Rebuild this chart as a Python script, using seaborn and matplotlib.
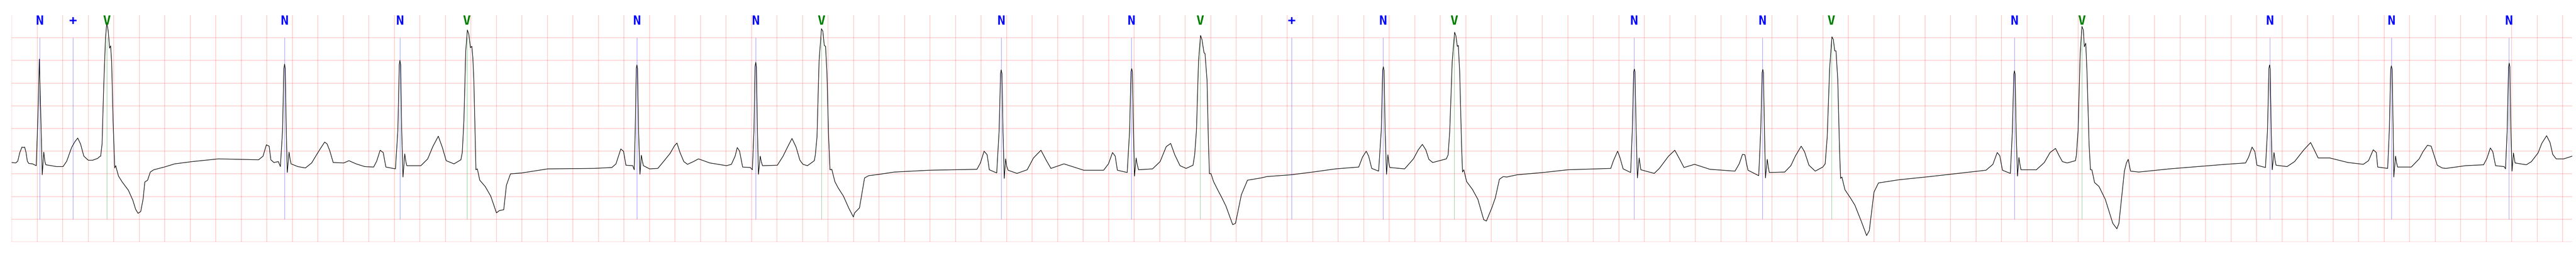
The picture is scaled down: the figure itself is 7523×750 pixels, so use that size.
import matplotlib
matplotlib.use("Agg")
import matplotlib.pyplot as plt
import numpy as np
import pandas as pd
import seaborn as sns

# ECG trace: time (s) and amplitude (mV)
t_sec = [
    0.000, 0.032, 0.048, 0.064, 0.081, 0.091, 0.102, 0.113, 0.123, 0.134, 0.164, 0.193,
    0.207, 0.217, 0.228, 0.240, 0.252, 0.260, 0.268, 0.311, 0.352, 0.403,
    0.432, 0.470, 0.494, 0.518, 0.540, 0.566, 0.601, 0.634, 0.674, 0.690,
    0.698, 0.709, 0.722, 0.736, 0.746, 0.757, 0.768, 0.776, 0.784, 0.795, 0.808, 0.816,
    0.827, 0.838, 0.867, 0.915, 0.950, 0.972, 0.991, 1.012, 1.031, 1.044, 1.066, 1.087,
    1.114, 1.197, 1.278, 1.415, 1.622, 1.936,
    1.971, 1.997, 2.019, 2.032, 2.056, 2.091, 2.107,
    2.124, 2.134, 2.140, 2.145, 2.153, 2.161, 2.175, 2.183, 2.191,
    2.244, 2.303, 2.352, 2.384, 2.419, 2.454, 2.473, 2.494, 2.521, 2.604, 2.644, 2.701,
    2.768, 2.838,
    2.862, 2.889, 2.913, 2.934, 3.009,
    3.028, 3.039, 3.044, 3.050, 3.058, 3.068, 3.082, 3.090, 3.098, 3.208,
    3.262, 3.302, 3.345, 3.377, 3.407, 3.468, 3.522,
    3.533, 3.546, 3.560, 3.573, 3.584, 3.597, 3.608, 3.616, 3.624, 3.640, 3.651, 3.670,
    3.713, 3.756, 3.801, 3.823, 3.858, 3.879, 3.911, 4.000, 4.204,
    4.564, 4.706, 4.738, 4.754, 4.776, 4.787, 4.797, 4.816, 4.870, 4.881,
    4.889, 4.897, 4.902, 4.907, 4.915, 4.926, 4.937, 4.945, 4.953, 5.001, 5.066,
    5.119, 5.162, 5.197, 5.216, 5.240, 5.270, 5.299, 5.345, 5.385, 5.474, 5.605, 5.643,
    5.672, 5.689, 5.707, 5.731, 5.791, 5.807,
    5.820, 5.828, 5.834, 5.839, 5.847, 5.855, 5.869, 5.877, 5.887, 6.003,
    6.048, 6.083, 6.118, 6.150, 6.180, 6.204, 6.239, 6.293,
    6.301, 6.314, 6.330, 6.349, 6.360, 6.371, 6.381, 6.392, 6.405, 6.416, 6.430, 6.454,
    6.478, 6.521, 6.564, 6.599, 6.609, 6.647, 6.687, 6.719, 6.803, 6.921, 7.197, 7.568,
    7.595, 7.624, 7.648, 7.665, 7.723,
    7.742, 7.753, 7.758, 7.764, 7.772, 7.782, 7.793, 7.801, 7.812, 7.882, 7.962,
    8.011, 8.070, 8.113, 8.148, 8.250, 8.405, 8.561,
    8.599, 8.631, 8.652, 8.669, 8.746,
    8.765, 8.776, 8.781, 8.787, 8.795, 8.803, 8.816, 8.824, 8.835, 8.945,
    9.004, 9.052, 9.087, 9.119, 9.160, 9.208, 9.262,
    9.275, 9.289, 9.305, 9.321, 9.332, 9.348, 9.356, 9.372, 9.383, 9.391, 9.402, 9.423,
    9.455, 9.487, 9.520, 9.573, 9.595, 9.641, 9.689, 9.796, 9.841,
    10.032, 10.201, 10.381, 10.561,
    10.591, 10.620, 10.639, 10.663, 10.717,
    10.738, 10.749, 10.754, 10.760, 10.768, 10.779, 10.790, 10.797, 10.805, 10.921,
    10.990, 11.028, 11.060, 11.087, 11.111, 11.141, 11.248,
    11.262, 11.275, 11.294, 11.313, 11.323, 11.334, 11.342, 11.353, 11.367, 11.375, 11.385,
    11.407, 11.452, 11.495, 11.541, 11.562, 11.603, 11.632, 11.664, 11.694, 11.721,
    11.804, 12.008, 12.201, 12.537,
    12.558, 12.591, 12.610, 12.634, 12.693,
    12.706, 12.717, 12.722, 12.727, 12.736, 12.746, 12.760, 12.768, 12.773, 12.878, 12.918,
    12.990, 13.039, 13.076, 13.111, 13.194, 13.315, 13.511,
    13.544, 13.570, 13.589, 13.600, 13.613, 13.648, 13.697,
    13.713, 13.724, 13.729, 13.734, 13.742, 13.750, 13.764, 13.772, 13.780, 13.901,
    13.949, 13.984, 14.030, 14.056, 14.091, 14.140, 14.199,
    14.218, 14.234, 14.253, 14.271, 14.282, 14.293, 14.303, 14.317, 14.330, 14.339, 14.349,
    14.373, 14.416, 14.451, 14.499, 14.543, 14.564, 14.601, 14.636, 14.797, 15.039, 15.479,
    15.533, 15.567, 15.587, 15.608, 15.670,
    15.686, 15.697, 15.702, 15.707, 15.715, 15.726, 15.737, 15.745, 15.753, 15.874,
    15.936, 15.981, 16.024, 16.054, 16.078, 16.115, 16.180,
    16.188, 16.201, 16.217, 16.231, 16.242, 16.250, 16.261, 16.271, 16.287, 16.298, 16.309,
    16.330, 16.365, 16.414, 16.473, 16.505, 16.521, 16.564, 16.580, 16.594, 16.612, 16.677,
    16.918, 17.358, 17.514,
    17.538, 17.565, 17.587, 17.603, 17.670,
    17.686, 17.697, 17.702, 17.707, 17.715, 17.723, 17.737, 17.745, 17.753, 17.839,
    17.898, 17.971, 18.024, 18.054, 18.083, 18.174, 18.317, 18.437, 18.478,
    18.515, 18.539, 18.550, 18.628,
    18.641, 18.652, 18.657, 18.663, 18.671, 18.676, 18.690, 18.698, 18.706, 18.813,
    18.875, 18.905, 18.940, 18.969, 19.017, 19.055, 19.085, 19.238, 19.380,
    19.406, 19.433, 19.452, 19.474, 19.541, 19.552,
    19.565, 19.576, 19.581, 19.586, 19.594, 19.603, 19.614, 19.622, 19.627, 19.715, 19.755,
    19.807, 19.836, 19.874, 19.901, 19.922, 19.949, 20.008, 20.075,
]
ecg_mv = [
    -0.75, -0.76, -0.72, -0.53, -0.41, -0.42, -0.41, -0.53, -0.72, -0.77, -0.78, -0.82,
    0.34, 1.53, 0.34, -1.02, -0.52, -0.72, -0.80, -0.82, -0.84, -0.84,
    -0.72, -0.42, -0.30, -0.21, -0.34, -0.61, -0.70, -0.70, -0.66, -0.62,
    -0.61, -0.34, 0.94, 2.00, 2.33, 2.15, 1.77, 1.82, 1.47, 0.19, -0.87, -0.82,
    -0.94, -1.05, -1.18, -1.36, -1.58, -1.78, -1.87, -1.83, -1.55, -1.18, -1.14, -0.96,
    -0.91, -0.85, -0.78, -0.73, -0.67, -0.69,
    -0.61, -0.36, -0.39, -0.69, -0.75, -0.73, -0.84,
    -0.04, 1.32, 1.42, 1.32, -0.04, -0.97, -0.52, -0.68, -0.78,
    -0.84, -0.87, -0.76, -0.61, -0.45, -0.30, -0.34, -0.49, -0.75, -0.76, -0.71, -0.78,
    -0.84, -0.85,
    -0.72, -0.48, -0.53, -0.85, -0.89,
    -0.04, 1.40, 1.50, 1.40, -0.04, -1.07, -0.56, -0.72, -0.82, -0.82,
    -0.67, -0.40, -0.17, -0.42, -0.71, -0.78, -0.69,
    -0.53, 0.19, 1.70, 2.17, 2.08, 1.78, 1.81, 1.55, 1.03, -0.91, -0.89, -1.14,
    -1.28, -1.49, -1.86, -1.81, -1.79, -1.25, -1.00, -0.98, -0.89,
    -0.88, -0.86, -0.78, -0.64, -0.45, -0.48, -0.50, -0.81, -0.82, -0.91,
    -0.04, 1.32, 1.40, 1.32, -0.04, -1.01, -0.59, -0.72, -0.82, -0.89, -0.88,
    -0.70, -0.55, -0.38, -0.32, -0.53, -0.73, -0.79, -0.73, -0.67, -0.76, -0.82, -0.79,
    -0.61, -0.42, -0.50, -0.85, -0.86, -0.91,
    -0.04, 1.36, 1.46, 1.36, -0.04, -1.01, -0.61, -0.73, -0.82, -0.81,
    -0.61, -0.41, -0.22, -0.41, -0.70, -0.79, -0.82, -0.71,
    -0.58, -0.19, 1.47, 2.20, 2.14, 1.83, 1.81, 1.22, -0.19, -0.91, -0.90, -1.17,
    -1.30, -1.49, -1.76, -1.95, -1.86, -1.75, -1.09, -1.04, -1.01, -0.96, -0.92, -0.90,
    -0.76, -0.50, -0.58, -0.91, -0.98,
    -0.04, 1.21, 1.29, 1.21, -0.04, -1.10, -0.67, -0.83, -0.92, -0.99, -0.91,
    -0.65, -0.48, -0.71, -0.88, -0.78, -0.92, -0.92,
    -0.78, -0.53, -0.61, -0.92, -0.97,
    -0.04, 1.25, 1.32, 1.25, -0.04, -1.05, -0.65, -0.79, -0.91, -0.89,
    -0.73, -0.40, -0.33, -0.58, -0.82, -0.88, -0.81,
    -0.58, -0.04, 1.47, 2.05, 1.96, 1.67, 1.65, 1.06, -0.34, -1.00, -0.99, -1.17,
    -1.35, -1.52, -1.71, -2.12, -2.09, -1.46, -1.14, -1.09, -1.06,
    -1.02, -0.96, -0.89, -0.85,
    -0.63, -0.50, -0.61, -0.88, -0.94,
    -0.04, 1.28, 1.36, 1.28, -0.04, -1.01, -0.58, -0.76, -0.86, -0.89,
    -0.67, -0.47, -0.35, -0.47, -0.68, -0.75, -0.67,
    -0.58, -0.04, 1.47, 2.12, 2.04, 1.81, 1.83, 1.22, -0.34, -0.96, -0.91,
    -1.17, -1.34, -1.56, -2.01, -2.04, -1.76, -1.53, -1.12, -1.06, -1.07,
    -1.02, -0.97, -0.91, -0.88,
    -0.71, -0.50, -0.65, -0.89, -0.97,
    -0.04, 1.25, 1.31, 1.25, -0.04, -1.09, -0.65, -0.81, -0.91, -0.99, -0.88,
    -0.61, -0.48, -0.67, -0.86, -0.79, -0.90, -0.94,
    -0.78, -0.57, -0.58, -0.75, -0.92, -0.97, -1.04,
    -0.04, 1.23, 1.30, 1.23, -0.04, -1.09, -0.68, -0.85, -0.97, -0.96,
    -0.82, -0.61, -0.39, -0.51, -0.81, -0.94, -0.85,
    -0.78, -0.19, 1.32, 2.02, 1.96, 1.71, 1.71, 1.06, -0.41, -1.10, -1.07,
    -1.35, -1.53, -1.69, -2.03, -2.36, -2.25, -1.40, -1.20, -1.13, -1.06, -0.92,
    -0.79, -0.53, -0.60, -0.92, -0.99,
    -0.04, 1.20, 1.27, 1.20, -0.04, -1.05, -0.64, -0.79, -0.91, -0.91,
    -0.75, -0.53, -0.44, -0.61, -0.73, -0.76, -0.71,
    -0.58, -0.04, 1.62, 2.25, 2.17, 1.80, 1.88, 1.22, -0.34, -0.91, -0.91,
    -1.19, -1.28, -1.56, -2.09, -2.21, -2.09, -0.94, -0.76, -0.68, -0.94, -0.96,
    -0.89, -0.79, -0.76,
    -0.63, -0.41, -0.51, -0.81, -0.86,
    -0.04, 1.32, 1.40, 1.32, -0.04, -0.91, -0.53, -0.70, -0.81, -0.84,
    -0.73, -0.47, -0.31, -0.48, -0.65, -0.65, -0.75, -0.79, -0.71,
    -0.47, -0.53, -0.85, -0.88,
    -0.04, 1.31, 1.38, 1.31, -0.04, -1.07, -0.61, -0.76, -0.85, -0.85,
    -0.67, -0.51, -0.37, -0.39, -0.81, -0.87, -0.88, -0.82, -0.80,
    -0.66, -0.43, -0.51, -0.82, -0.84, -0.89,
    -0.04, 1.36, 1.44, 1.36, -0.04, -0.94, -0.54, -0.68, -0.76, -0.80, -0.73,
    -0.54, -0.33, -0.16, -0.31, -0.57, -0.67, -0.67, -0.61,
]

# beat annotations
ann_time = [0.220, 0.481, 0.746, 2.140, 3.044, 3.570, 4.902, 5.834, 6.349, 7.758,
            8.778, 9.318, 10.035, 10.752, 11.310, 12.719, 13.726, 14.268, 15.702,
            16.231, 17.705, 18.658, 19.579]
ann_symbol = ['N', '+', 'V', 'N', 'N', 'V', 'N', 'N', 'V', 'N',
              'N', 'V', '+', 'N', 'V', 'N', 'N', 'V', 'N',
              'V', 'N', 'N', 'N']
sym_color = {'N': 'blue', '+': 'blue', 'V': 'green'}

sns.set_style("white")

fig = plt.figure(figsize=(75.23, 7.5), dpi=100)
ax = fig.add_axes([34 / 7523, 44 / 750, 7478 / 7523, 662 / 750])

# ECG paper grid: 0.2 s and 0.5 mV
for x in np.arange(0, 20.01, 0.2):
    ax.axvline(x, color='red', alpha=0.27, lw=1.1, zorder=0)
for y in np.arange(-2.5, 2.01, 0.5):
    ax.axhline(y, color='red', alpha=0.27, lw=1.1, zorder=0)

df = pd.DataFrame({'time': t_sec, 'mv': ecg_mv})
sns.lineplot(data=df, x='time', y='mv', sort=False, estimator=None,
             color='black', lw=1.2, ax=ax, zorder=3)

for t, s in zip(ann_time, ann_symbol):
    c = sym_color[s]
    ax.vlines(t, -2.0, 2.0, color=c, alpha=0.5, lw=0.8, zorder=2)
    ax.text(t, 1.0, s, transform=ax.get_xaxis_transform(), ha='center', va='top',
            color=c, fontsize=27.4, fontweight='bold', family='DejaVu Sans Mono',
            zorder=4)

ax.set_xlim(0, 20.075)
ax.set_ylim(-2.5, 2.499)
ax.set_axis_off()

fig.savefig('out.png', dpi=100)
